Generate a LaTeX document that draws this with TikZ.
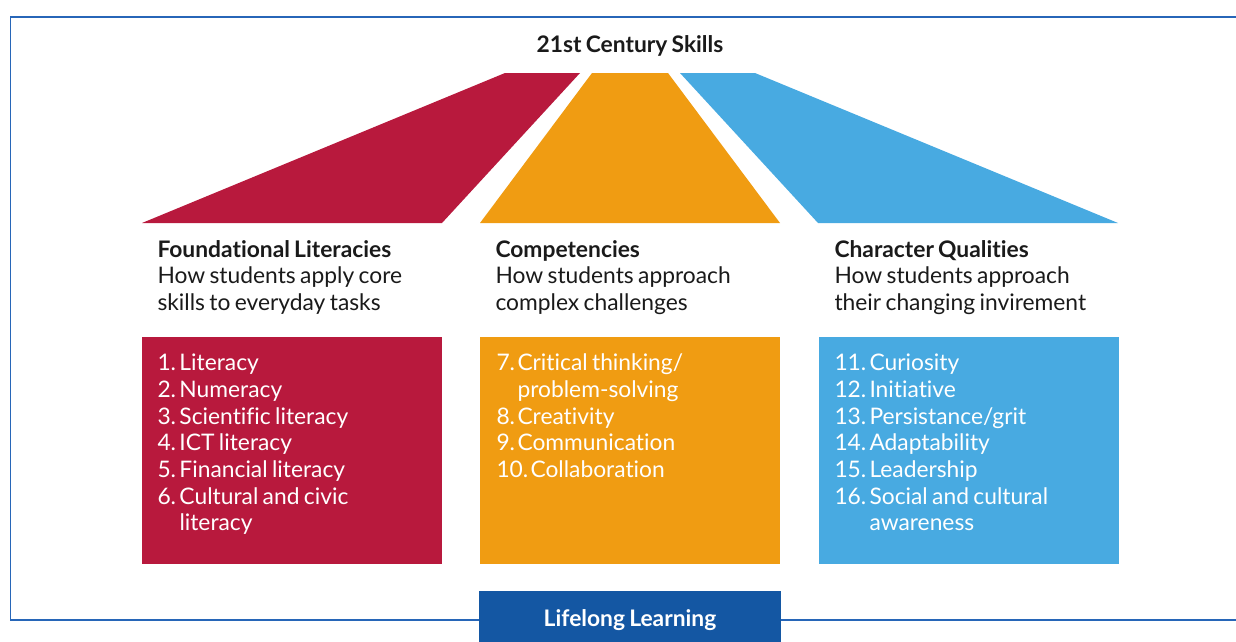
\documentclass[tikz,border=0pt]{standalone}
\usepackage{fontspec}
\setmainfont{Lato}[WordSpace=0.75, RawFeature={-liga;-clig;-dlig}]

\definecolor{skillred}{HTML}{B8193D}
\definecolor{skillorange}{HTML}{F09C12}
\definecolor{skillblue}{HTML}{48AAE1}
\definecolor{lifeblue}{HTML}{1457A3}
\definecolor{frameblue}{HTML}{2766B8}
\definecolor{darktext}{HTML}{1A1A1A}

% number column of a list item
\newcommand\itemno[2]{\makebox[#1][l]{#2}}

\begin{document}
\begin{tikzpicture}[x=1pt, y=-1pt,
  frame/.style={draw=frameblue, line width=1.5pt},
  skillbox/.style={minimum width=300pt, minimum height=227pt, inner sep=0pt, anchor=north west},
  head/.style={anchor=base west, align=left, inner sep=0pt, text=darktext, font=\fontsize{22.8}{26.7}\selectfont},
  items/.style={anchor=base west, align=left, inner sep=0pt, text=white, font=\fontsize{22.8}{26.7}\selectfont}]

\path[use as bounding box, clip] (0,0) rectangle (1236,642);

%frame
\draw[frame] (1240,17) -- (10.5,17) -- (10.5,620) -- (1240,620);

%title
\node[anchor=base, inner sep=0pt, text=darktext, font=\bfseries\fontsize{22.8}{26}\selectfont] (title) at (630,52.7) {21st Century Skills};

%roof
\fill[skillred] (142,223) -- (442,223) -- (580,73) -- (505,73) -- cycle;
\fill[skillorange] (480,223) -- (780,223) -- (668,73) -- (592,73) -- cycle;
\fill[skillblue] (818,223) -- (1118,223) -- (755,73) -- (680,73) -- cycle;

%headings (base = last line)
\node[head] (found head) at (157.3,310.4) {\textbf{Foundational Literacies}\\How students apply core\\skills to everyday tasks};
\node[head] (comp head) at (495.3,310.4) {\textbf{Competencies}\\How students approach\\complex challenges};
\node[head] (char head) at (834.3,310.4) {\textbf{Character Qualities}\\How students approach\\their changing invirement};

%boxes
\foreach \c/\x/\n in {skillred/141.5/found, skillorange/480/comp, skillblue/818.5/char}
\node[skillbox, fill=\c] (\n box) at (\x,337) {};

%lists (base = last line)
\node[items] (found list) at (157.3,530.9) {\itemno{22pt}{1.}Literacy\\\itemno{22pt}{2.}Numeracy\\\itemno{22pt}{3.}Scientific literacy\\\itemno{22pt}{4.}ICT literacy\\\itemno{22pt}{5.}Financial literacy\\\itemno{22pt}{6.}Cultural and civic\\\itemno{22pt}{}literacy};
\node[items] (comp list) at (496.3,477.5) {\itemno{21pt}{7.}Critical thinking/\\\itemno{21pt}{}problem-solving\\\itemno{21pt}{8.}Creativity\\\itemno{21pt}{9.}Communication\\\itemno{34pt}{10.}Collaboration};
\node[items] (char list) at (834.3,530.9) {\itemno{35pt}{11.}Curiosity\\\itemno{35pt}{12.}Initiative\\\itemno{35pt}{13.}Persistance/grit\\\itemno{35pt}{14.}Adaptability\\\itemno{35pt}{15.}Leadership\\\itemno{35pt}{16.}Social and cultural\\\itemno{35pt}{}awareness};

%base
\node[fill=lifeblue, text=white, minimum width=302pt, minimum height=55.4pt, text height=16pt, text depth=0pt, inner sep=0pt, anchor=north, font=\bfseries\fontsize{22.8}{26}\selectfont] (lifelong) at (630,591) {Lifelong Learning};

\end{tikzpicture}
\end{document}
